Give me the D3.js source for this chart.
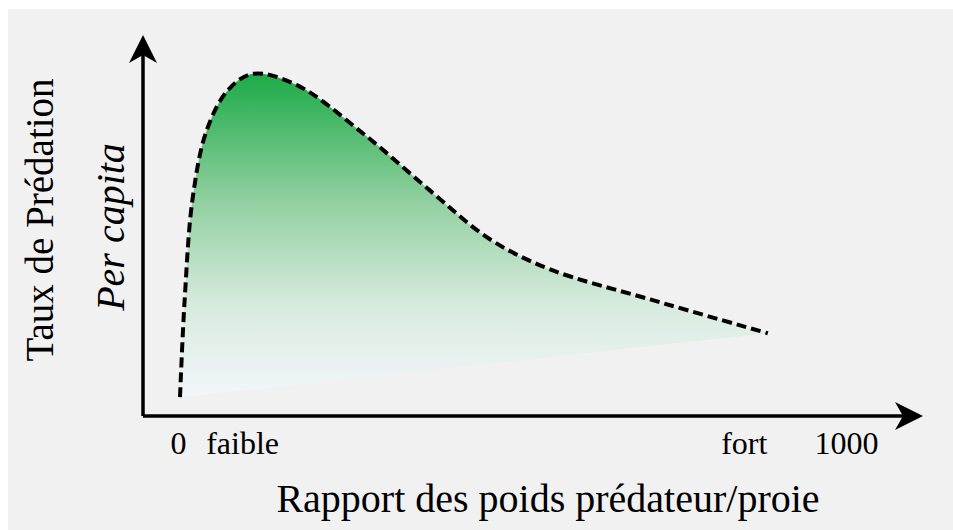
<!DOCTYPE html>
<html>
<head>
<meta charset="utf-8">
<script src="https://cdn.jsdelivr.net/npm/d3@7"></script>
<style>
  body { margin: 0; background: #fff; }
  text { font-family: "Liberation Serif", "Times New Roman", serif; fill: #000; }
</style>
</head>
<body>
<div id="chart"></div>
<script>
// ratio predator/prey weight (0..1000) vs per capita predation rate (arbitrary 0..100)
const ratio = [3, 10, 22, 43, 75, 112, 178, 278, 377, 467, 557, 707, 883];
const rate  = [5, 31, 58, 76, 86.7, 91, 88, 75, 60, 47, 39, 31, 22];

const tickValues = [0, 96, 847, 1000];
const tickLabels = ["0", "faible", "fort", "1000"];

const xTitle = "Rapport des poids prédateur/proie";
const yTitle = "Taux de Prédation";
const ySubtitle = "Per capita";

const width = 953, height = 530;

const svg = d3.select("#chart").append("svg")
    .attr("width", width)
    .attr("height", height);

// grey panel
svg.append("rect")
    .attr("x", 8).attr("y", 9)
    .attr("width", width - 8).attr("height", height - 9)
    .attr("fill", "#f1f1f1");

const x = d3.scaleLinear().domain([0, 1000]).range([178, 846]);
const y = d3.scaleLinear().domain([0, 100]).range([416, 40]);

const points = ratio.map((d, i) => ({ x: d, y: rate[i] }));

// gradient for the area under the curve
const defs = svg.append("defs");
const grad = defs.append("linearGradient")
    .attr("id", "fillGrad")
    .attr("gradientUnits", "userSpaceOnUse")
    .attr("x1", 0).attr("x2", 0)
    .attr("y1", y(d3.max(rate))).attr("y2", y(d3.min(rate)));
grad.append("stop").attr("offset", "0%").attr("stop-color", "#1cab47");
grad.append("stop").attr("offset", "40%").attr("stop-color", "#93d0a2");
grad.append("stop").attr("offset", "72%").attr("stop-color", "#d8ebdf");
grad.append("stop").attr("offset", "100%").attr("stop-color", "#f3f6fa");

const line = d3.line()
    .x(d => x(d.x))
    .y(d => y(d.y))
    .curve(d3.curveCatmullRom.alpha(0.5));

svg.append("path")
    .attr("d", line(points) + "Z")
    .attr("fill", "url(#fillGrad)");

svg.append("path")
    .attr("d", line(points))
    .attr("fill", "none")
    .attr("stroke", "#000")
    .attr("stroke-width", 4)
    .attr("stroke-dasharray", "10,5");

// axes with arrow heads
const x0 = 143, y0 = y(0);
svg.append("path")
    .attr("d", `M${x0},${y0} V52 M${x0},${y0} H908`)
    .attr("fill", "none")
    .attr("stroke", "#000")
    .attr("stroke-width", 3.5);

svg.append("path")
    .attr("d", `M${x0},35 L${x0 + 14},63 L${x0},55 L${x0 - 14},63 Z`)
    .attr("fill", "#000");
svg.append("path")
    .attr("d", `M923,${y0} L895,${y0 - 14} L903,${y0} L895,${y0 + 14} Z`)
    .attr("fill", "#000");

// tick labels
const xAxis = d3.axisBottom(x)
    .tickValues(tickValues)
    .tickFormat((d, i) => tickLabels[i])
    .tickSize(0)
    .tickPadding(15);

const gx = svg.append("g")
    .attr("transform", `translate(0,${y0})`)
    .call(xAxis);
gx.select(".domain").remove();
gx.selectAll("text")
    .attr("font-size", 32)
    .attr("font-family", "Liberation Serif, serif")
    .attr("fill", "#000");

// titles
svg.append("text")
    .attr("x", 548).attr("y", 512)
    .attr("text-anchor", "middle")
    .attr("font-size", 40)
    .text(xTitle);

svg.append("text")
    .attr("transform", "translate(53,220) rotate(-90)")
    .attr("text-anchor", "middle")
    .attr("font-size", 39)
    .text(yTitle);

svg.append("text")
    .attr("transform", "translate(124,227) rotate(-90)")
    .attr("text-anchor", "middle")
    .attr("font-size", 40)
    .attr("font-style", "italic")
    .text(ySubtitle);
</script>
</body>
</html>
